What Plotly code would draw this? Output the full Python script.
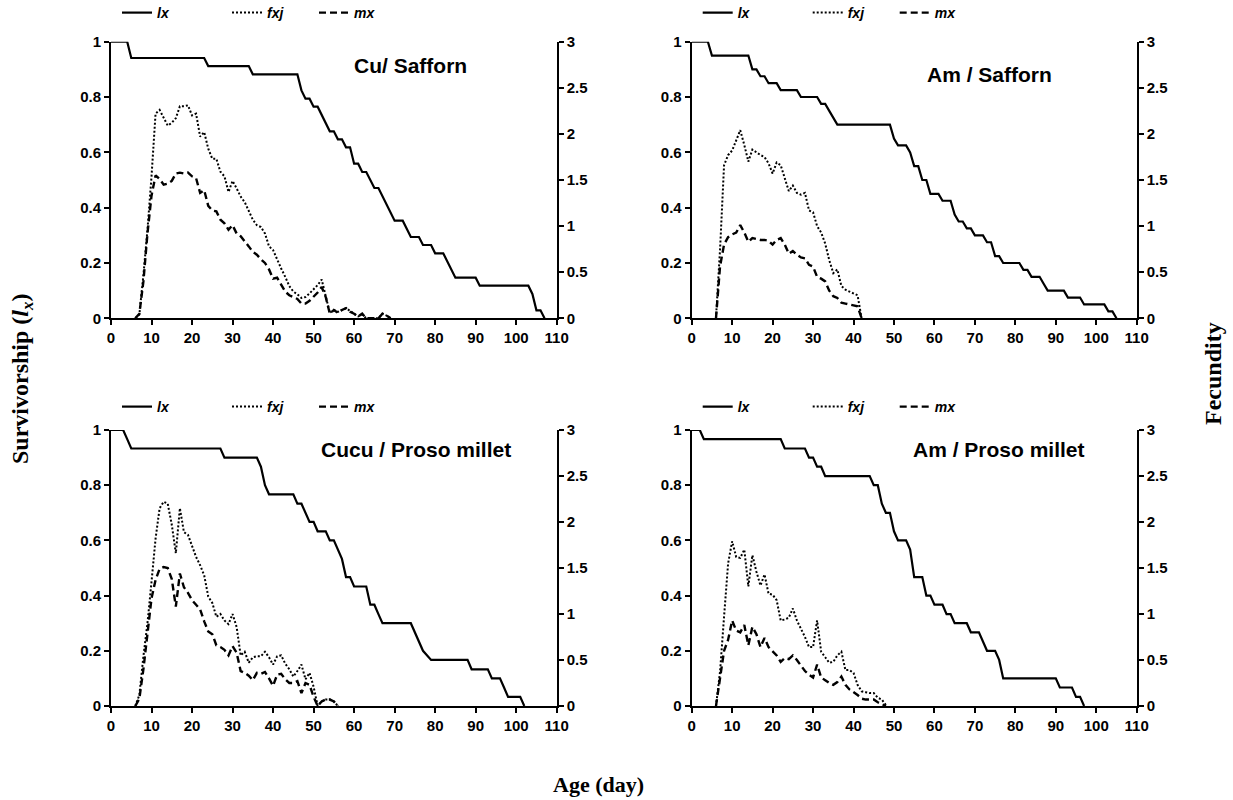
import plotly.graph_objects as go

W, H = 1233, 800

# ---------------- data ----------------
panel_titles = ["Cu/ Safforn", "Am / Safforn", "Cucu / Proso millet", "Am / Proso millet"]
series_names = ["lx", "fxj", "mx"]
x_ticks = list(range(0, 111, 10))

# Panel 1: Cu / Safforn
p1_lx_age = [0, 4, 5, 23, 24, 34, 35, 46, 47, 48, 49, 50, 51, 52, 53, 54, 55, 56, 57, 58, 59, 60, 61, 62,
             63, 64, 65, 66, 67, 68, 69, 70, 72, 73, 74, 76, 77, 79, 80, 82, 83, 84, 85, 90, 91, 103, 104,
             105, 106, 107]
p1_lx = [1, 1, 0.941, 0.941, 0.912, 0.912, 0.882, 0.882, 0.824, 0.794, 0.794, 0.765, 0.765, 0.735, 0.706,
         0.676, 0.676, 0.647, 0.647, 0.618, 0.618, 0.559, 0.559, 0.529, 0.529, 0.5, 0.471, 0.471, 0.441,
         0.412, 0.382, 0.353, 0.353, 0.324, 0.294, 0.294, 0.265, 0.265, 0.235, 0.235, 0.206, 0.176, 0.147,
         0.147, 0.118, 0.118, 0.088, 0.029, 0.029, 0]
p1_age = list(range(6, 70))
p1_fxj = [0, 0.04, 0.47, 0.96, 1.54, 2.22, 2.26, 2.17, 2.09, 2.12, 2.17, 2.30, 2.30, 2.31, 2.20, 2.22,
          1.97, 2.02, 1.84, 1.73, 1.73, 1.59, 1.54, 1.37, 1.49, 1.41, 1.32, 1.26, 1.16, 1.07, 1.01, 0.99,
          0.92, 0.78, 0.74, 0.63, 0.54, 0.45, 0.35, 0.29, 0.26, 0.22, 0.23, 0.27, 0.31, 0.36, 0.42, 0.23,
          0.06, 0.09, 0.07, 0.09, 0.11, 0.08, 0.05, 0.02, 0.04, 0, 0, 0, 0, 0.05, 0.03, 0]
p1_mx = [0, 0.05, 0.40, 0.92, 1.33, 1.55, 1.51, 1.45, 1.46, 1.49, 1.57, 1.58, 1.57, 1.58, 1.54, 1.52,
         1.36, 1.39, 1.22, 1.17, 1.16, 1.07, 1.03, 0.96, 1.01, 0.92, 0.89, 0.84, 0.78, 0.72, 0.69, 0.64,
         0.60, 0.53, 0.43, 0.44, 0.36, 0.29, 0.25, 0.23, 0.21, 0.16, 0.16, 0.19, 0.23, 0.28, 0.34, 0.23,
         0.05, 0.09, 0.06, 0.09, 0.11, 0.07, 0.05, 0.02, 0.05, 0, 0, 0, 0, 0.05, 0.03, 0]

# Panel 2: Am / Safforn
p2_lx_age = [0, 4, 5, 14, 15, 16, 17, 18, 19, 21, 22, 26, 27, 31, 32, 33, 34, 35, 36, 49, 50, 51, 53, 54,
             55, 56, 57, 58, 59, 61, 62, 64, 65, 66, 67, 68, 69, 70, 72, 73, 74, 75, 76, 77, 81, 82, 83,
             84, 86, 87, 88, 92, 93, 96, 97, 102, 103, 104, 105]
p2_lx = [1, 1, 0.95, 0.95, 0.9, 0.9, 0.875, 0.875, 0.85, 0.85, 0.825, 0.825, 0.8, 0.8, 0.775, 0.775,
         0.75, 0.725, 0.7, 0.7, 0.65, 0.625, 0.625, 0.6, 0.55, 0.55, 0.5, 0.5, 0.45, 0.45, 0.425, 0.425,
         0.375, 0.35, 0.35, 0.325, 0.325, 0.3, 0.3, 0.275, 0.275, 0.225, 0.225, 0.2, 0.2, 0.175, 0.175,
         0.15, 0.15, 0.125, 0.1, 0.1, 0.075, 0.075, 0.05, 0.05, 0.025, 0.025, 0]
p2_age = list(range(6, 43))
p2_fxj = [0, 0.74, 1.66, 1.77, 1.82, 1.92, 2.04, 1.88, 1.70, 1.83, 1.80, 1.77, 1.75, 1.68, 1.57, 1.69,
          1.66, 1.51, 1.38, 1.44, 1.36, 1.34, 1.36, 1.17, 1.15, 1.00, 0.93, 0.81, 0.63, 0.49, 0.53, 0.35,
          0.31, 0.29, 0.27, 0.25, 0]
p2_mx = [0, 0.56, 0.80, 0.88, 0.91, 0.93, 1.01, 0.93, 0.83, 0.87, 0.86, 0.85, 0.85, 0.84, 0.80, 0.85,
         0.87, 0.80, 0.70, 0.73, 0.69, 0.66, 0.65, 0.58, 0.56, 0.45, 0.43, 0.40, 0.30, 0.24, 0.22, 0.17,
         0.16, 0.15, 0.14, 0.13, 0]

# Panel 3: Cucu / Proso millet
p3_lx_age = [0, 3, 4, 5, 27, 28, 36, 37, 38, 39, 45, 46, 47, 48, 49, 50, 51, 53, 54, 55, 56, 57, 58, 59,
             60, 63, 64, 65, 66, 67, 74, 75, 76, 77, 79, 88, 89, 93, 94, 96, 97, 98, 101, 102]
p3_lx = [1, 1, 0.967, 0.933, 0.933, 0.9, 0.9, 0.867, 0.8, 0.767, 0.767, 0.733, 0.733, 0.7, 0.667,
         0.667, 0.633, 0.633, 0.6, 0.6, 0.567, 0.533, 0.467, 0.467, 0.433, 0.433, 0.367, 0.367, 0.333,
         0.3, 0.3, 0.267, 0.233, 0.2, 0.167, 0.167, 0.133, 0.133, 0.1, 0.1, 0.067, 0.033, 0.033, 0]
p3_age = list(range(6, 57))
p3_fxj = [0, 0.12, 0.54, 0.90, 1.35, 1.82, 2.15, 2.22, 2.20, 1.97, 1.66, 2.15, 1.89, 1.86, 1.74, 1.62,
          1.53, 1.42, 1.19, 1.12, 0.97, 1.00, 0.93, 0.89, 1.00, 0.86, 0.55, 0.59, 0.47, 0.53, 0.54, 0.54,
          0.59, 0.53, 0.45, 0.54, 0.55, 0.46, 0.40, 0.32, 0.38, 0.45, 0.29, 0.36, 0.21, 0, 0.05, 0.07,
          0.07, 0.05, 0]
p3_mx = [0, 0.08, 0.40, 0.78, 1.17, 1.37, 1.49, 1.51, 1.50, 1.38, 1.08, 1.44, 1.29, 1.23, 1.15, 1.10,
         1.05, 0.92, 0.81, 0.78, 0.66, 0.64, 0.61, 0.55, 0.65, 0.58, 0.38, 0.36, 0.33, 0.28, 0.36, 0.35,
         0.37, 0.30, 0.22, 0.34, 0.35, 0.29, 0.25, 0.25, 0.27, 0.14, 0.25, 0.23, 0.10, 0, 0.05, 0.07,
         0.07, 0.05, 0]

# Panel 4: Am / Proso millet
p4_lx_age = [0, 2, 3, 22, 23, 28, 29, 30, 31, 32, 33, 44, 45, 46, 47, 48, 49, 50, 51, 53, 54, 55, 57,
             58, 59, 60, 62, 63, 64, 65, 68, 69, 71, 72, 73, 75, 76, 77, 90, 91, 94, 95, 96, 97]
p4_lx = [1, 1, 0.967, 0.967, 0.933, 0.933, 0.9, 0.9, 0.867, 0.867, 0.833, 0.833, 0.8, 0.8, 0.733, 0.7,
         0.7, 0.633, 0.6, 0.6, 0.567, 0.467, 0.467, 0.4, 0.4, 0.367, 0.367, 0.333, 0.333, 0.3, 0.3, 0.267,
         0.267, 0.233, 0.2, 0.2, 0.167, 0.1, 0.1, 0.067, 0.067, 0.033, 0.033, 0]
p4_age = list(range(6, 49))
p4_fxj = [0, 0.37, 0.97, 1.55, 1.79, 1.62, 1.61, 1.70, 1.30, 1.64, 1.46, 1.31, 1.43, 1.22, 1.21, 1.15,
          0.93, 0.94, 0.96, 1.06, 0.93, 0.84, 0.75, 0.64, 0.64, 0.93, 0.59, 0.53, 0.47, 0.48, 0.55, 0.59,
          0.39, 0.39, 0.36, 0.23, 0.16, 0.15, 0.14, 0.14, 0.09, 0.07, 0.01]
p4_mx = [0, 0.32, 0.60, 0.72, 0.93, 0.82, 0.80, 0.88, 0.66, 0.86, 0.78, 0.64, 0.74, 0.64, 0.60, 0.55,
         0.48, 0.52, 0.51, 0.55, 0.50, 0.44, 0.38, 0.34, 0.31, 0.45, 0.31, 0.28, 0.25, 0.23, 0.26, 0.32,
         0.23, 0.18, 0.15, 0.12, 0.08, 0.07, 0.07, 0.07, 0.04, 0.02, 0]

panels = [
    (p1_lx_age, p1_lx, p1_age, p1_fxj, p1_mx),
    (p2_lx_age, p2_lx, p2_age, p2_fxj, p2_mx),
    (p3_lx_age, p3_lx, p3_age, p3_fxj, p3_mx),
    (p4_lx_age, p4_lx, p4_age, p4_fxj, p4_mx),
]

# ---------------- layout geometry (pixels) ----------------
# plot-area boxes: (left, right, top, bottom)
boxes = [(111, 556.7, 41.7, 318.3), (691.7, 1136.7, 41.7, 318.3),
         (111, 556.7, 430, 706), (691.7, 1136.7, 430, 706)]
title_pos = [(410, 65), (989, 74), (416, 449), (999, 449)]
legend_y = [13, 13, 407, 407]
legend_dx = [12, 122, 209]

SANS = "Liberation Sans, Arial, sans-serif"
SERIF = "Liberation Serif, Times New Roman, serif"
tickfont = dict(family=SANS, size=15, color="black", weight="bold")

line_styles = [dict(color="black", width=2.2, dash="solid"),
               dict(color="black", width=2, dash="2px,2px"),
               dict(color="black", width=2.4, dash="7px,4px")]

fig = go.Figure()
layout = dict(width=W, height=H, margin=dict(l=0, r=0, t=0, b=0, pad=0, autoexpand=False),
              paper_bgcolor="white", plot_bgcolor="white", showlegend=True)

leg_count = 0
annotations = []
for i, (box, data) in enumerate(zip(boxes, panels)):
    L, R, T, B = box
    xid = "x" if i == 0 else f"x{i+1}"
    yl = "y" if i == 0 else f"y{2*i+1}"
    yr = f"y{2*i+2}"
    xkey = "xaxis" if i == 0 else f"xaxis{i+1}"
    ylkey = "yaxis" if i == 0 else f"yaxis{2*i+1}"
    yrkey = f"yaxis{2*i+2}"
    xdom = [L / W, R / W]
    ydom = [1 - B / H, 1 - T / H]
    common = dict(showgrid=False, zeroline=False, showline=True, linecolor="black", linewidth=2,
                  ticks="outside", ticklen=5, tickwidth=2, tickcolor="black", tickfont=tickfont,
                  automargin=False)
    layout[xkey] = dict(domain=xdom, anchor=yl, range=[0, 110], tickvals=x_ticks, **common)
    layout[ylkey] = dict(domain=ydom, anchor=xid, range=[0, 1], dtick=0.2, tick0=0, **common)
    layout[yrkey] = dict(overlaying=yl, side="right", anchor=xid, range=[0, 3], dtick=0.5, tick0=0,
                         **common)

    lx_age, lx, age, fxj, mx = data
    xs = [lx_age, age, age]
    ys = [lx, fxj, mx]
    yaxes = [yl, yr, yr]
    for k in range(3):
        leg_count += 1
        legid = "legend" if leg_count == 1 else f"legend{leg_count}"
        fig.add_trace(go.Scatter(x=xs[k], y=ys[k], mode="lines", name=series_names[k],
                                 line=line_styles[k], xaxis=xid, yaxis=yaxes[k],
                                 legend=legid, cliponaxis=False, hoverinfo="skip"))
        layout[legid] = dict(x=(L + legend_dx[k] - 6) / W, y=1 - legend_y[i] / H,
                             xanchor="left", yanchor="middle", orientation="h",
                             bgcolor="rgba(0,0,0,0)", borderwidth=0,
                             font=dict(family=SANS, size=14, color="black", weight="bold",
                                       style="italic"))
    tx, ty = title_pos[i]
    annotations.append(dict(text=panel_titles[i], x=tx / W, y=1 - ty / H, xref="paper", yref="paper",
                            xanchor="center", yanchor="middle", showarrow=False,
                            font=dict(family=SANS, size=21, color="black", weight="bold")))

annotations.append(dict(text="Survivorship (<i>l<sub>x</sub></i>)", x=22 / W, y=1 - 379 / H,
                        xref="paper", yref="paper", xanchor="center", yanchor="middle",
                        textangle=-90, showarrow=False,
                        font=dict(family=SERIF, size=24, color="black", weight="bold")))
annotations.append(dict(text="Fecundity", x=1213 / W, y=1 - 374 / H, xref="paper", yref="paper",
                        xanchor="center", yanchor="middle", textangle=-90, showarrow=False,
                        font=dict(family=SERIF, size=24, color="black", weight="bold")))
annotations.append(dict(text="Age (day)", x=598 / W, y=1 - 784 / H, xref="paper", yref="paper",
                        xanchor="center", yanchor="middle", showarrow=False,
                        font=dict(family=SERIF, size=22, color="black", weight="bold")))
layout["annotations"] = annotations

fig.update_layout(**layout)
fig.write_html("out.html", config={"displayModeBar": False},
               post_script="document.body.style.margin='0px';document.body.style.padding='0px';")
